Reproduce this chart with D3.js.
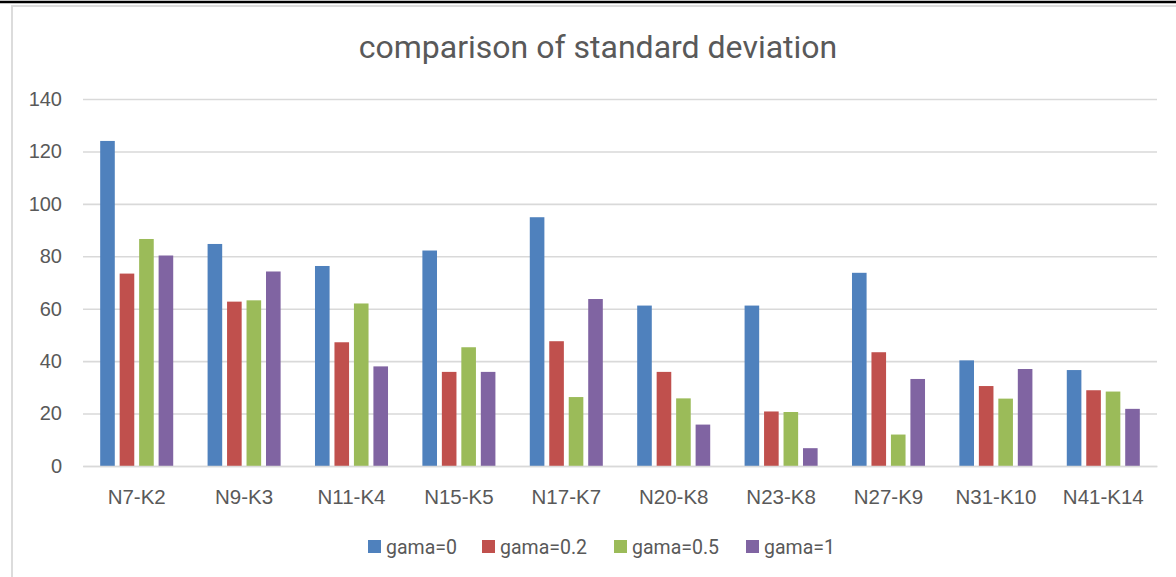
<!DOCTYPE html>
<html>
<head>
<meta charset="utf-8">
<script src="https://cdn.jsdelivr.net/npm/d3@7"></script>
<style>
  body { margin: 0; background: #fff; }
  svg { display: block; font-family: Roboto, "Open Sans", sans-serif; }
</style>
</head>
<body>
<div id="chart"></div>
<script>
const categories = ["N7-K2", "N9-K3", "N11-K4", "N15-K5", "N17-K7", "N20-K8", "N23-K8", "N27-K9", "N31-K10", "N41-K14"];
const seriesNames = ["gama=0", "gama=0.2", "gama=0.5", "gama=1"];
const gama0 = [124.0, 84.7, 76.3, 82.2, 94.9, 61.2, 61.2, 73.7, 40.3, 36.6];
const gama02 = [73.4, 62.7, 47.2, 35.9, 47.6, 35.9, 20.8, 43.4, 30.5, 28.9];
const gama05 = [86.6, 63.2, 62.0, 45.3, 26.3, 25.8, 20.6, 12.0, 25.7, 28.4];
const gama1 = [80.3, 74.2, 38.0, 35.9, 63.7, 15.8, 6.8, 33.2, 37.0, 21.8];
const yTicks = [0, 20, 40, 60, 80, 100, 120, 140];

const seriesValues = [gama0, gama02, gama05, gama1];
const colors = ["#4f81bd", "#c0504d", "#9bbb59", "#8064a2"];

const width = 1176, height = 577;
const margin = { left: 83, right: 19, top: 99, bottom: 111 };

const svg = d3.select("#chart").append("svg")
    .attr("width", width)
    .attr("height", height);

// outer frame
svg.append("line")
    .attr("x1", 0).attr("x2", width)
    .attr("y1", 2).attr("y2", 2)
    .attr("stroke", "#000").attr("stroke-width", 2.5);
svg.append("rect")
    .attr("x", 12).attr("y", 6)
    .attr("width", width + 20).attr("height", height + 20)
    .attr("fill", "none")
    .attr("stroke", "#d9d9d9").attr("stroke-width", 1.8);

const x0 = d3.scaleBand()
    .domain(categories)
    .range([margin.left, width - margin.right])
    .paddingInner(0.32)
    .paddingOuter(0.16);

const x1 = d3.scaleBand()
    .domain(seriesNames)
    .range([0, x0.bandwidth()])
    .paddingInner(0.25);

const y = d3.scaleLinear()
    .domain([0, 140])
    .range([height - margin.bottom, margin.top]);

// gridlines
const yAxis = svg.append("g")
    .attr("transform", `translate(${margin.left},0)`)
    .call(d3.axisLeft(y).tickValues(yTicks).tickSize(-(width - margin.left - margin.right)).tickPadding(21));
yAxis.select(".domain").remove();
yAxis.selectAll(".tick line").attr("stroke", "#d9d9d9").attr("stroke-width", 1.6);
yAxis.selectAll(".tick text")
    .attr("fill", "#595959")
    .style("font-size", "20px");

// bars
const groups = svg.append("g").selectAll("g")
    .data(categories)
    .join("g")
    .attr("transform", d => `translate(${x0(d)},0)`);

groups.selectAll("rect")
    .data((c, i) => seriesNames.map((s, j) => ({ s, v: seriesValues[j][i], j })))
    .join("rect")
    .attr("x", d => x1(d.s))
    .attr("y", d => y(d.v))
    .attr("width", x1.bandwidth())
    .attr("height", d => y(0) - y(d.v))
    .attr("fill", d => colors[d.j]);

// category axis
const xAxis = svg.append("g")
    .attr("transform", `translate(0,${y(0)})`)
    .call(d3.axisBottom(x0).tickSize(0).tickPadding(23));
xAxis.select(".domain").attr("stroke", "#d9d9d9").attr("stroke-width", 1.6);
xAxis.selectAll(".tick text")
    .attr("fill", "#595959")
    .style("font-size", "20.5px");

// title
svg.append("text")
    .attr("x", 598)
    .attr("y", 58)
    .attr("text-anchor", "middle")
    .attr("fill", "#595959")
    .style("font-size", "32px")
    .text("comparison of standard deviation");

// legend
const legendX = [368, 482, 614, 746];
const legend = svg.append("g").selectAll("g")
    .data(seriesNames)
    .join("g")
    .attr("transform", (d, i) => `translate(${legendX[i]},540)`);
legend.append("rect")
    .attr("width", 13).attr("height", 13)
    .attr("fill", (d, i) => colors[i]);
legend.append("text")
    .attr("x", 18)
    .attr("y", 13.5)
    .attr("fill", "#595959")
    .style("font-size", "19.5px")
    .text(d => d);
</script>
</body>
</html>
